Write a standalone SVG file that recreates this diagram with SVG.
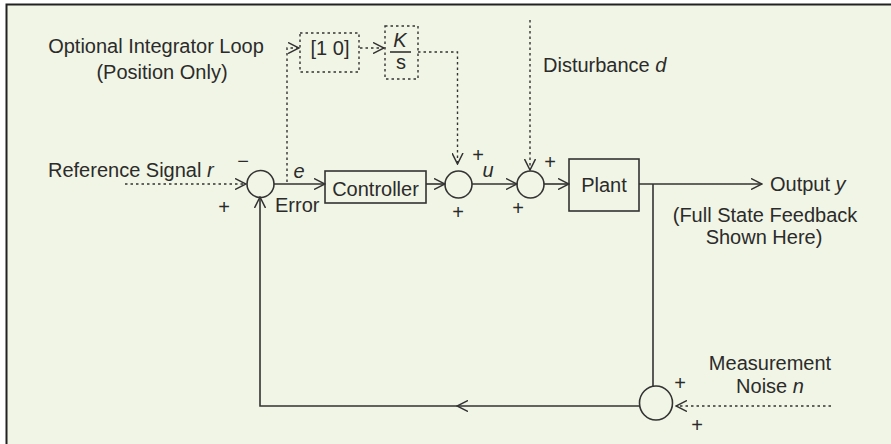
<svg xmlns="http://www.w3.org/2000/svg" width="891" height="444" viewBox="0 0 891 444">
<defs>
<style>
text{font-family:"Liberation Sans",Arial,sans-serif;font-size:20px;fill:#2b2b2b}
.it{font-style:italic}
.mid{text-anchor:middle}
.ln{fill:none;stroke:#333;stroke-width:1.6}
.dot{fill:none;stroke:#333;stroke-width:1.4;stroke-dasharray:2.5 3}
.sum{fill:none;stroke:#333;stroke-width:1.6}
.box{fill:none;stroke:#333;stroke-width:1.6}
.dbox{fill:none;stroke:#333;stroke-width:1.4;stroke-dasharray:2.5 3}
</style>
<marker id="ah" viewBox="0 0 12 12" refX="11" refY="6" markerWidth="12" markerHeight="12" markerUnits="userSpaceOnUse" orient="auto">
<path d="M0,0.5 L11,6 L0,11.5" fill="none" stroke="#333" stroke-width="1.5" stroke-dasharray="none"/>
</marker>
</defs>
<rect x="0" y="0" width="891" height="444" fill="#ffffff"/>
<rect x="6.5" y="4.5" width="890" height="445" fill="#f1f5e5"/>
<path d="M6.5,444 V4.5 H891" fill="none" stroke="#222" stroke-width="2"/>

<g id="connectors">
<path class="dot" d="M125,184 H246" marker-end="url(#ah)"/>
<path class="ln" d="M274,184 H325" marker-end="url(#ah)"/>
<path class="ln" d="M426,184 H445" marker-end="url(#ah)"/>
<path class="ln" d="M472,184 H517" marker-end="url(#ah)"/>
<path class="ln" d="M544,184 H569" marker-end="url(#ah)"/>
<path class="ln" d="M639,184 H762" marker-end="url(#ah)"/>
<path class="ln" d="M653,184 V387"/>
<path class="ln" d="M639,406 H457" marker-end="url(#ah)"/>
<path class="ln" d="M457,406 H260 V197" marker-end="url(#ah)"/>
<path class="dot" d="M831,406 H676" marker-end="url(#ah)"/>
<path class="dot" d="M530,20 V170" marker-end="url(#ah)"/>
<path class="dot" d="M287,182 V48 H299" marker-end="url(#ah)"/>
<path class="dot" d="M360,48 H384" marker-end="url(#ah)"/>
<path class="dot" d="M418,52 H457.5 V164" marker-end="url(#ah)"/>
</g>

<g id="sum1">
<circle class="sum" cx="260.5" cy="184" r="13.5"/>
<text class="mid" x="243" y="168">−</text>
<text class="mid" x="224" y="214">+</text>
</g>
<g id="controller">
<rect class="box" x="325" y="171" width="101" height="32"/>
<text class="mid" x="375.5" y="196">Controller</text>
</g>
<g id="sum2">
<circle class="sum" cx="458.5" cy="184.5" r="13.5"/>
<text class="mid" x="478" y="162">+</text>
<text class="mid" x="458" y="219">+</text>
</g>
<g id="sum3">
<circle class="sum" cx="530.5" cy="184.5" r="13.5"/>
<text class="mid" x="550" y="169">+</text>
<text class="mid" x="518" y="215">+</text>
</g>
<g id="plant">
<rect class="box" x="569" y="159" width="70" height="52"/>
<text class="mid" x="604" y="192">Plant</text>
</g>
<g id="sum4">
<ellipse class="sum" cx="656" cy="403" rx="16.5" ry="17"/>
<text class="mid" x="680" y="390">+</text>
<text class="mid" x="697" y="432">+</text>
</g>
<g id="box10">
<rect class="dbox" x="300" y="33" width="59" height="39"/>
<text class="mid" x="330" y="55">[1 0]</text>
</g>
<g id="boxKs">
<rect class="dbox" x="385" y="26" width="33" height="53"/>
<text class="mid it" x="400" y="47">K</text>
<path class="ln" d="M390,52 H411" stroke-width="1.3"/>
<text class="mid" x="401" y="69">s</text>
</g>

<g id="labels">
<text class="mid" x="156" y="53">Optional Integrator Loop</text>
<text class="mid" x="162" y="79">(Position Only)</text>
<text x="543" y="72">Disturbance <tspan class="it">d</tspan></text>
<text x="48" y="177">Reference Signal <tspan class="it">r</tspan></text>
<text class="mid it" x="299" y="178">e</text>
<text x="275" y="212">Error</text>
<text class="mid it" x="488" y="177">u</text>
<text x="770" y="191">Output <tspan class="it">y</tspan></text>
<text class="mid" x="765" y="222">(Full State Feedback</text>
<text class="mid" x="764" y="244">Shown Here)</text>
<text class="mid" x="770" y="370">Measurement</text>
<text class="mid" x="770" y="393">Noise <tspan class="it">n</tspan></text>
</g>
</svg>
